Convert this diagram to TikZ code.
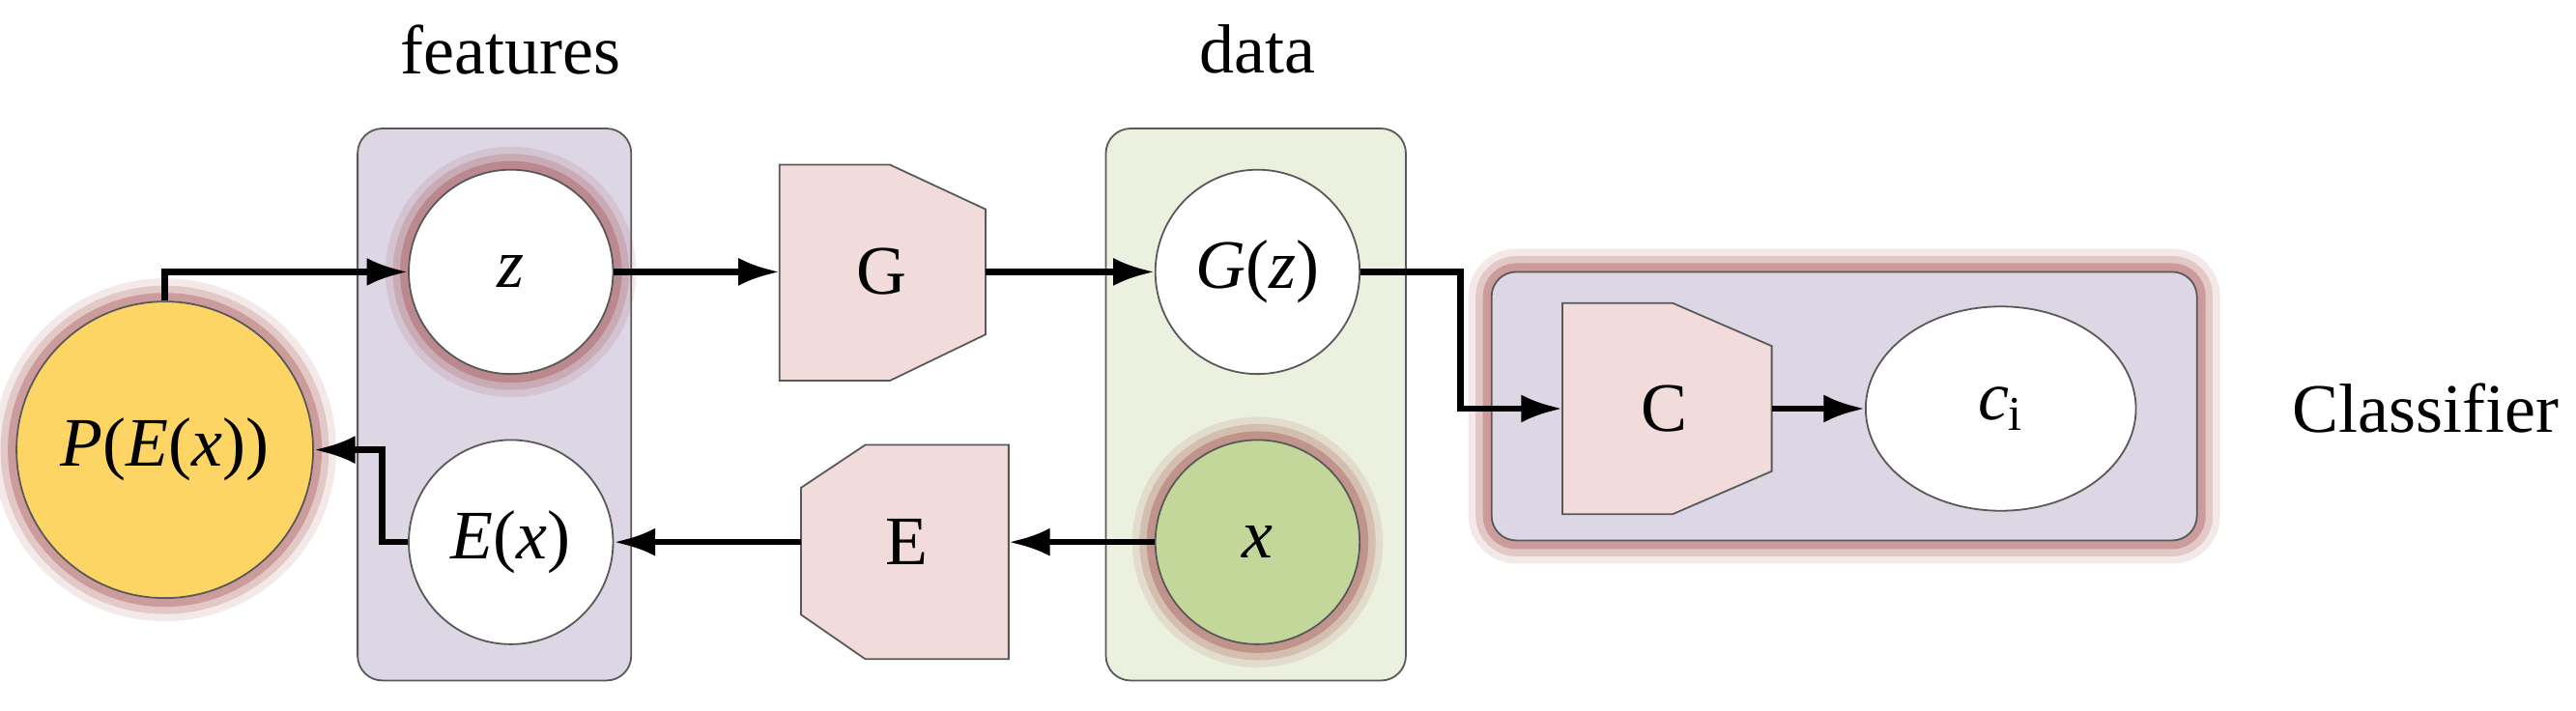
\documentclass[tikz,border=0pt]{standalone}
\usepackage{fontspec}
\setmainfont{Liberation Serif}
\usetikzlibrary{arrows.meta,shapes.geometric}
\definecolor{boxp}{HTML}{DCD6E5}
\definecolor{boxg}{HTML}{EBF1DE}
\definecolor{trap}{HTML}{F2DCDB}
\definecolor{xg}{HTML}{C4D79B}
\definecolor{py}{HTML}{FDD565}
\definecolor{glowc}{HTML}{A04848}
\begin{document}
\begin{tikzpicture}[x=0.02cm,y=-0.02cm,
  every node/.style={font=\fontsize{24}{28}\selectfont},
  glow/.style={preaction={draw=glowc,line width=16,opacity=0.12},
               preaction={draw=glowc,line width=11,opacity=0.2},
               preaction={draw=glowc,line width=6,opacity=0.35}},
  circ/.style={circle,draw=gray!70!black,line width=0.6pt,fill=white,minimum size=2.48cm,inner sep=0},
  grp/.style={draw=gray!70!black,line width=0.6pt,rounded corners=0.3cm},
  tr/.style={draw=gray!70!black,line width=0.6pt,fill=trap},
  arr/.style={line width=2.2pt,-{Latex[length=0.5cm,width=0.34cm]}}]
\useasboundingbox (0,0) rectangle (1563,431);
\node at (310,30) {features};
\node at (763,30) {data};
\node at (1472,248) {Classifier};
\draw[grp,fill=boxp] (217,78) rectangle (383,413);
\draw[grp,fill=boxg] (671,78) rectangle (853,413);
\draw[grp,fill=boxp,glow] (905,165) rectangle (1333,328);
\node[circ,glow] (z) at (310,165) {\textit{z}};
\node[circ] (Ex) at (310,329) {\textit{E}(\textit{x})};
\node[circ] (Gz) at (763,165) {\textit{G}(\textit{z})};
\node[circ,fill=xg,glow] (x) at (763,329) {\textit{x}};
\node[circ,fill=py,glow,minimum size=3.6cm] (P) at (100,273) {\textit{P}(\textit{E}(\textit{x}))};
\node[ellipse,draw=gray!70!black,line width=0.6pt,fill=white,minimum width=3.28cm,minimum height=2.48cm,inner sep=0] (ci) at (1214,248) {\textit{c}\textsubscript{i}};
\draw[tr] (473,100)--(540,100)--(598,127)--(598,203)--(540,231)--(473,231)--cycle;
\node (G) at (535,165) {G};
\coordinate (Gl) at (473,165); \coordinate (Gr) at (598,165);
\draw[tr] (525,270)--(612,270)--(612,400)--(525,400)--(486,373)--(486,296)--cycle;
\node (E) at (550,329) {E};
\coordinate (El) at (486,329); \coordinate (Er) at (612,329);
\draw[tr] (948,184)--(1015,184)--(1075,210)--(1075,286)--(1015,312)--(948,312)--cycle;
\node (C) at (1010,248) {C};
\coordinate (Cl) at (948,248); \coordinate (Cr) at (1075,248);
\draw[arr] (P.north) |- (z.west);
\draw[arr] (z.east) -- (Gl);
\draw[arr] (Gr) -- (Gz.west);
\draw[arr] (Gz.east) -- (886,165) |- (Cl);
\draw[arr] (Cr) -- (ci.west);
\draw[arr] (x.west) -- (Er);
\draw[arr] (El) -- (Ex.east);
\draw[arr] (Ex.west) -- (232,329) |- (P.east);
\end{tikzpicture}
\end{document}
